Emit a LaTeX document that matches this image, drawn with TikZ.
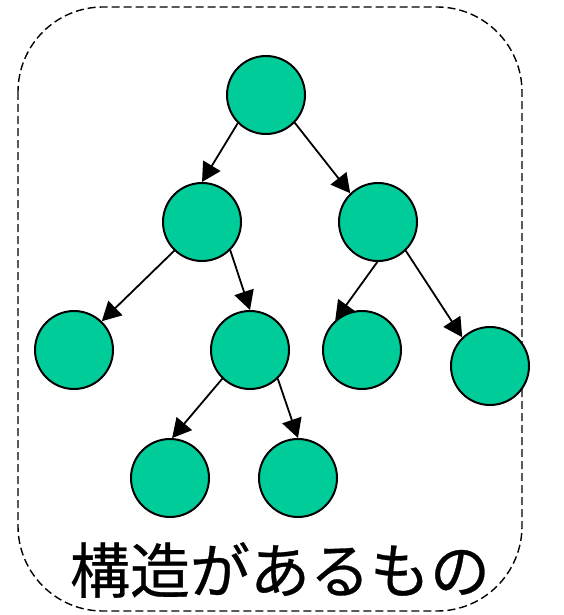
\documentclass[tikz,border=0pt]{standalone}
\usepackage{fontspec}
\newfontfamily\cjk[FakeBold=0.5]{Noto Sans CJK JP}
\usetikzlibrary{arrows.meta}
\definecolor{nodegreen}{RGB}{0,204,153}
\begin{document}
\begin{tikzpicture}[x=1pt,y=-1pt,
  vert/.style={circle,draw=black,line width=2pt,fill=nodegreen,minimum size=78pt,inner sep=0pt},
  edge/.style={line width=1.8pt,-{Triangle[length=19pt,width=20pt]}}]
\useasboundingbox (0,0) rectangle (563,615);
% dashed frame
\draw[line width=1.4pt,dash pattern=on 8pt off 4pt,rounded corners=85pt] (18,7) rectangle (522,611);
% tree vertices
\node[vert] (r)  at (266,95) {};
\node[vert] (a)  at (202,222) {};
\node[vert] (b)  at (378,222) {};
\node[vert] (aa) at (74,350) {};
\node[vert] (ab) at (250,350) {};
\node[vert] (ba) at (362,350) {};
\node[vert] (bb) at (490,366) {};
\node[vert] (ab1) at (170,478) {};
\node[vert] (ab2) at (298,478) {};
% edges
\draw[edge] (r.225) -- (a.90);
\draw[edge] (r.316) -- (b.134);
\draw[edge] (a.226) -- (aa.46);
\draw[edge] (a.315) -- (ab.90);
\draw[edge] (b.269) -- (ba.132);
\draw[edge] (b.314) -- (bb.134);
\draw[edge] (ab.226) -- (ab1.87);
\draw[edge] (ab.314) -- (ab2.90);
% caption
\node[font=\cjk\fontsize{60}{62}\selectfont,inner sep=0pt] (cap) at (280,570) {構造があるもの};
\end{tikzpicture}
\end{document}
